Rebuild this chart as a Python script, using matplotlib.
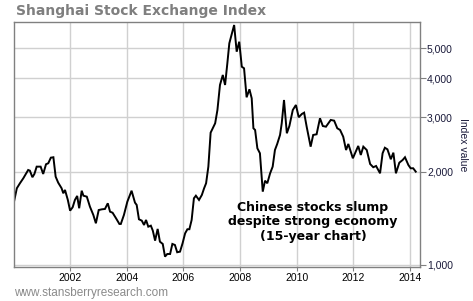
import matplotlib
matplotlib.use("Agg")
import matplotlib.pyplot as plt
from matplotlib.ticker import FixedLocator, NullLocator, FuncFormatter

# Shanghai Composite (decimal year, index value)
years = [
    2000.02, 2000.12, 2000.23, 2000.35, 2000.44, 2000.52, 2000.58, 2000.67, 2000.74, 2000.82,
    2000.96, 2001.05, 2001.15, 2001.23, 2001.32, 2001.41, 2001.49, 2001.58, 2001.70, 2001.76,
    2001.82, 2001.92, 2002.00, 2002.09, 2002.17, 2002.25, 2002.32, 2002.41, 2002.47, 2002.59,
    2002.70, 2002.82, 2002.91, 2003.01, 2003.12, 2003.23, 2003.33, 2003.41, 2003.50, 2003.62,
    2003.74, 2003.79, 2003.90, 2004.02, 2004.17, 2004.29, 2004.35, 2004.43, 2004.53, 2004.61,
    2004.68, 2004.76, 2004.85, 2004.92, 2005.00, 2005.09, 2005.17, 2005.27, 2005.35, 2005.43,
    2005.53, 2005.61, 2005.70, 2005.78, 2005.88, 2005.97, 2006.06, 2006.14, 2006.21, 2006.29,
    2006.37, 2006.44, 2006.55, 2006.65, 2006.73, 2006.80, 2006.88, 2006.96, 2007.12, 2007.20,
    2007.29, 2007.39, 2007.47, 2007.55, 2007.62, 2007.79, 2007.88, 2007.97, 2008.06, 2008.14,
    2008.23, 2008.33, 2008.41, 2008.47, 2008.53, 2008.61, 2008.70, 2008.80, 2008.88, 2008.96,
    2009.06, 2009.15, 2009.23, 2009.31, 2009.41, 2009.47, 2009.55, 2009.65, 2009.74, 2009.86,
    2009.97, 2010.07, 2010.18, 2010.26, 2010.35, 2010.49, 2010.58, 2010.70, 2010.82, 2010.92,
    2011.03, 2011.20, 2011.32, 2011.43, 2011.53, 2011.64, 2011.74, 2011.82, 2011.98, 2012.08,
    2012.17, 2012.26, 2012.35, 2012.47, 2012.59, 2012.70, 2012.80, 2012.94, 2013.03, 2013.11,
    2013.20, 2013.32, 2013.41, 2013.50, 2013.62, 2013.74, 2013.82, 2013.94, 2014.02, 2014.11,
    2014.20,
]
index_values = [
    1600, 1768, 1835, 1905, 1966, 2025, 2015, 1919, 1966, 2076,
    2076, 1966, 2113, 2129, 2219, 2226, 1927, 1843, 1768, 1703,
    1746, 1621, 1497, 1535, 1621, 1670, 1524, 1736, 1673, 1661,
    1542, 1450, 1363, 1504, 1512, 1516, 1581, 1486, 1474, 1415,
    1356, 1356, 1450, 1600, 1736, 1589, 1562, 1404, 1390, 1346,
    1397, 1329, 1339, 1290, 1198, 1307, 1189, 1169, 1064, 1085,
    1085, 1169, 1160, 1099, 1104, 1175, 1265, 1304, 1304, 1397,
    1641, 1673, 1621, 1682, 1768, 1835, 2076, 2672, 2865, 3162,
    3808, 4102, 3808, 4473, 5191, 5946, 4876, 5252, 4362, 4310,
    3475, 3688, 3449, 2761, 2726, 2379, 2293, 1724, 1870, 1835,
    1976, 2076, 2349, 2457, 2627, 2865, 3406, 2660, 2808, 3162,
    3282, 2996, 3070, 3100, 2793, 2408, 2627, 2640, 2974, 2808,
    2793, 2937, 2921, 2761, 2726, 2593, 2349, 2457, 2209, 2320,
    2421, 2264, 2408, 2349, 2117, 2067, 2086, 1976, 2293, 2389,
    2361, 2193, 2303, 1976, 2138, 2182, 2226, 2101, 2051, 2051,
    2000,
]

x_ticks = [2002, 2004, 2006, 2008, 2010, 2012, 2014]
y_ticks = [1000, 2000, 3000, 4000, 5000]

fig = plt.figure(figsize=(4.73, 3.01), dpi=100)
ax = fig.add_axes([14 / 473, 34 / 301, 406 / 473, 245 / 301])

ax.plot(years, index_values, color="black", lw=1.4, solid_joinstyle="miter")

ax.set_yscale("log")
ax.set_xlim(2000.02, 2014.35)
ax.set_ylim(985, 6080)

ax.xaxis.set_major_locator(FixedLocator(x_ticks))
ax.yaxis.set_major_locator(FixedLocator(y_ticks))
ax.yaxis.set_minor_locator(NullLocator())
ax.yaxis.set_major_formatter(FuncFormatter(lambda v, p: f"{v:,.0f}"))

# значения по правой оси
ax.yaxis.tick_right()
ax.yaxis.set_label_position("right")
ax.tick_params(axis="y", length=4, color="#808080", labelsize=7.5,
               labelcolor="#1a1a3a", pad=1, labelfontfamily="Liberation Sans")
ax.tick_params(axis="x", length=3, color="#808080", labelsize=7.5,
               labelcolor="black", pad=1, labelfontfamily="Liberation Sans")
ax.set_ylabel("Index value", rotation=-90, labelpad=11, fontsize=7.5,
              color="#1a1a3a", family="Liberation Sans")

ax.grid(True, color="#d0d0d0", lw=1)
ax.set_axisbelow(True)
for s in ax.spines.values():
    s.set_color("#808080")
    s.set_linewidth(1)

fig.text(16 / 473, 1 - 11 / 301, "Shanghai Stock Exchange Index", fontsize=10,
         fontweight="bold", color="#7f7f7f", va="center", ha="left")

fig.text(313 / 473, 1 - 222 / 301,
         "Chinese stocks slump\ndespite strong economy\n(15-year chart)",
         fontsize=9, fontweight="bold", color="black", ha="center", va="center",
         linespacing=1.15)

fig.text(14 / 473, 1 - 293 / 301, "www.stansberryresearch.com", fontsize=8.5,
         color="#8a8a8a", family="Liberation Sans", va="center", ha="left")

fig.savefig("out.png", dpi=100)
